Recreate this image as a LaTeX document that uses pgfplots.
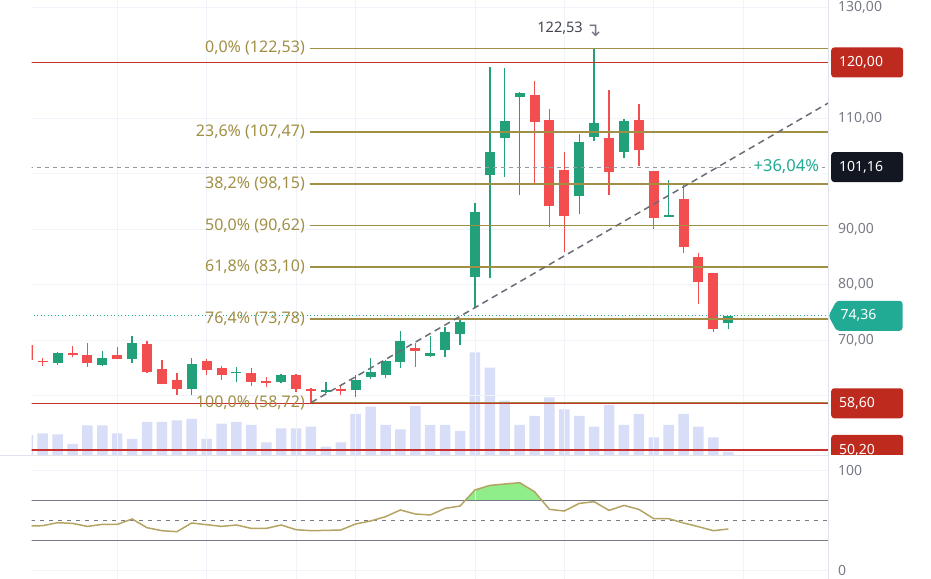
\documentclass[border=0pt]{standalone}
\usepackage{pgfplots}
\pgfplotsset{compat=1.18}
\usepackage{pgfplotstable}
\usepackage{fontspec}
\setmainfont{Noto Sans}
\newfontfamily\arrowfont{DejaVu Sans}

\definecolor{tvgreen}{HTML}{22A079}
\definecolor{tvred}{HTML}{F24E50}
\definecolor{fib}{HTML}{A08F45}
\definecolor{lvl}{HTML}{C8302E}
\definecolor{tagred}{HTML}{BF2A1F}
\definecolor{tagblack}{HTML}{131722}
\definecolor{tagteal}{HTML}{22AB94}
\definecolor{vol}{HTML}{D8DDF8}
\definecolor{tickc}{HTML}{787B86}
\definecolor{rsiline}{HTML}{B5A364}
\definecolor{rsifill}{HTML}{90EE8A}
\definecolor{gridc}{HTML}{F0F3FA}
\definecolor{borderc}{HTML}{E0E3EB}
\definecolor{darktext}{HTML}{434651}
\definecolor{trend}{HTML}{6A6D78}

\newcommand\tickfont{\fontsize{14bp}{16bp}\selectfont}
\newcommand\fibfont{\fontsize{16bp}{18bp}\selectfont}
\newcommand\tagfont{\fontsize{14bp}{16bp}\selectfont}

% green candles: index, open, high, low, close
\pgfplotstableread{
i O H L C
1 65.80 67.89 65.50 67.60
4 65.50 68.07 65.37 66.70
6 66.52 70.72 65.91 69.51
10 61.17 66.70 60.09 65.68
13 64.00 65.19 62.38 64.30
16 62.49 63.87 62.20 63.69
19 60.60 62.49 60.50 60.90
21 60.99 63.69 59.78 62.79
22 63.39 66.70 62.92 64.29
23 63.69 66.40 63.10 66.22
24 65.98 71.68 64.90 69.87
26 67.12 70.72 66.88 67.60
27 68.20 72.40 66.88 71.50
28 71.08 73.60 69.10 73.30
29 81.41 94.74 76.00 93.12
30 99.73 119.24 81.12 103.82
31 106.45 118.96 99.42 109.46
32 113.84 114.74 96.13 114.45
36 96.00 107.06 92.70 105.73
37 106.58 122.53 105.91 109.10
39 103.93 109.77 102.74 109.51
42 92.22 98.83 92.22 92.52
46 73.01 74.36 71.93 74.36
}\greentab

% red candles: index, open, high, low, close
\pgfplotstableread{
i O H L C
-1 69.10 70.00 65.50 66.40
0 66.20 66.81 65.32 65.95
2 67.71 68.97 66.88 67.35
3 67.30 69.51 65.19 65.80
5 67.30 68.68 66.50 66.58
7 69.23 69.82 64.00 64.18
8 64.77 66.40 62.00 62.07
9 62.79 64.00 60.09 61.17
11 66.22 66.52 63.69 64.59
12 65.01 65.37 62.79 63.69
14 64.00 64.90 61.71 62.49
15 62.61 63.39 61.48 62.31
17 63.69 63.87 60.68 61.12
18 61.23 61.30 58.72 60.81
20 61.12 61.71 60.09 60.82
25 68.50 69.51 65.19 68.05
33 114.14 116.72 98.23 109.33
34 109.64 111.62 90.41 94.14
35 100.63 103.82 85.91 92.40
38 106.34 115.05 96.13 100.32
40 109.64 112.52 101.35 104.23
41 100.50 100.50 89.95 91.93
43 95.35 97.93 85.62 86.81
44 85.01 85.73 76.43 80.40
45 82.13 82.13 71.50 71.93
}\redtab

% volume and RSI
\pgfplotstableread{
i V R
-1 20.0 44.7
0 21.7 45.0
1 20.7 48.0
2 11.0 47.3
3 29.7 44.3
4 29.7 46.3
5 21.7 46.3
6 16.0 51.7
7 33.0 43.0
8 33.0 40.0
9 34.7 39.0
10 36.0 47.7
11 16.0 46.0
12 31.3 44.3
13 33.0 45.7
14 30.0 42.3
15 12.7 42.3
16 26.7 45.7
17 26.7 41.0
18 28.3 40.0
19 8.3 40.3
20 12.7 40.7
21 41.0 46.7
22 48.3 49.7
23 30.0 54.0
24 25.7 60.7
25 49.0 56.7
26 30.0 55.7
27 30.0 62.3
28 24.0 64.7
29 102.7 80.7
30 87.3 85.3
31 54.3 86.7
32 30.0 88.0
33 39.0 79.0
34 57.7 61.3
35 45.7 59.7
36 39.0 67.3
37 28.3 69.0
38 50.0 60.3
39 30.0 65.3
40 41.0 61.3
41 17.7 52.0
42 30.0 52.0
43 41.0 47.7
44 28.3 44.0
45 17.7 40.0
46 3.3 41.7
}\vrtab

\newcommand\pricetag[3]{%
  \node[fill=#2, rounded corners=3bp, text=white, anchor=west, minimum height=30bp,
        text width=56bp, inner xsep=8bp, inner ysep=0pt, font=\tagfont, align=left]
        at ([xshift=3bp]#1) {#3};}

\begin{document}
\begin{tikzpicture}[x=1bp,y=1bp]
\useasboundingbox (0,0) rectangle (931,579);

% ---------- volume ----------
\begin{axis}[at={(31.5bp,124bp)}, anchor=south west, width=796.5bp, height=455bp,
  scale only axis, xmin=-0.7515, xmax=52.69, ymin=0, ymax=455, axis lines=none]
\addplot[ybar, bar width=10.5bp, fill=vol, draw=none] table[x=i,y=V]{\vrtab};
\end{axis}

% ---------- price panel ----------
\begin{axis}[name=main, at={(31.5bp,124bp)}, anchor=south west, width=796.5bp, height=455bp,
  scale only axis, xmin=-0.7515, xmax=52.69, ymin=49.28, ymax=131.26,
  clip mode=individual, axis line style={draw=none}, tick style={draw=none},
  xtick={5,11,17,21,29,35,41,47}, xticklabels={}, xmajorgrids,
  ytick={70,80,90,110,130}, ymajorgrids,
  extra y ticks={60,100,120}, extra y tick labels={},
  extra y tick style={grid=major},
  major grid style={gridc, line width=0.8bp},
  yticklabel pos=right,
  yticklabel style={anchor=west, inner sep=0pt, xshift=10bp, font=\tickfont, text=tickc,
    /pgf/number format/.cd, fixed, fixed zerofill, precision=2, use comma, 1000 sep={}, assume math mode=true}]

% candles: wicks and bodies
\addplot[draw=none, mark=none, error bars/.cd, y dir=plus, y explicit, error mark=none,
  error bar style={draw=tvgreen, line width=1.4bp}]
  table[x=i, y=L, y error expr=\thisrow{H}-\thisrow{L}] {\greentab};
\addplot[draw=none, mark=none, error bars/.cd, y dir=plus, y explicit, error mark=none,
  error bar style={draw=tvgreen, line width=10bp, line cap=butt}]
  table[x=i, y=O, y error expr=\thisrow{C}-\thisrow{O}] {\greentab};
\addplot[draw=none, mark=none, error bars/.cd, y dir=plus, y explicit, error mark=none,
  error bar style={draw=tvred, line width=1.4bp}]
  table[x=i, y=L, y error expr=\thisrow{H}-\thisrow{L}] {\redtab};
\addplot[draw=none, mark=none, error bars/.cd, y dir=plus, y explicit, error mark=none,
  error bar style={draw=tvred, line width=10bp, line cap=butt}]
  table[x=i, y=C, y error expr=\thisrow{O}-\thisrow{C}] {\redtab};

% horizontal levels
\addplot[lvl, line width=1.3bp] coordinates {(-2,120) (60,120)};
\addplot[lvl, line width=1.3bp] coordinates {(-2,58.60) (60,58.60)};
\addplot[lvl, line width=1.3bp] coordinates {(-2,50.20) (60,50.20)};
\addplot[trend!70, line width=1bp, dash pattern=on 4bp off 4bp] coordinates {(-2,101.16) (60,101.16)};
\addplot[tagteal, line width=1.2bp, dash pattern=on 1bp off 2.5bp] coordinates {(-2,74.36) (60,74.36)};

% fibonacci levels
\addplot[fib, line width=1.7bp] coordinates {(17.93,122.53) (60,122.53)};
\addplot[fib, line width=1.7bp] coordinates {(17.93,107.47) (60,107.47)};
\addplot[fib, line width=1.7bp] coordinates {(17.93,98.15) (60,98.15)};
\addplot[fib, line width=1.7bp] coordinates {(17.93,90.62) (60,90.62)};
\addplot[fib, line width=1.7bp] coordinates {(17.93,83.10) (60,83.10)};
\addplot[fib, line width=1.7bp] coordinates {(17.93,73.78) (60,73.78)};
\addplot[fib, line width=1.7bp] coordinates {(17.93,58.72) (60,58.72)};

% trend line
\addplot[trend, line width=1.5bp, dash pattern=on 6.5bp off 4.5bp] coordinates {(18,58.72) (53,113.15)};

% fib labels
\node[anchor=east, text=fib, font=\fibfont, inner sep=0pt] at (axis cs:17.6,122.53) {0,0\% (122,53)};
\node[anchor=east, text=fib, font=\fibfont, inner sep=0pt] at (axis cs:17.6,107.47) {23,6\% (107,47)};
\node[anchor=east, text=fib, font=\fibfont, inner sep=0pt] at (axis cs:17.6,98.15) {38,2\% (98,15)};
\node[anchor=east, text=fib, font=\fibfont, inner sep=0pt] at (axis cs:17.6,90.62) {50,0\% (90,62)};
\node[anchor=east, text=fib, font=\fibfont, inner sep=0pt] at (axis cs:17.6,83.10) {61,8\% (83,10)};
\node[anchor=east, text=fib, font=\fibfont, inner sep=0pt] at (axis cs:17.6,73.78) {76,4\% (73,78)};
\node[anchor=east, text=fib, font=\fibfont, inner sep=0pt] at (axis cs:17.6,58.72) {100,0\% (58,72)};

% annotations
\node[anchor=east, text=tagteal, font=\fontsize{16.5bp}{18bp}\selectfont, fill=white, inner xsep=3bp, inner ysep=1bp] at (axis cs:52.3,101.16) {+36,04\%};
\node[anchor=east, text=darktext, font=\fontsize{14.5bp}{16bp}\selectfont, inner sep=0pt] at (axis cs:36.25,126.2) {122,53};
\node[anchor=center, text=tickc, font=\arrowfont\fontsize{19bp}{21bp}\selectfont, inner sep=0pt] at (axis cs:36.95,125.7) {↴};

\coordinate (t120) at (axis cs:52.69,120);
\coordinate (t101) at (axis cs:52.69,101.16);
\coordinate (t74) at (axis cs:52.69,74.36);
\coordinate (t586) at (axis cs:52.69,58.60);
\coordinate (t502) at (axis cs:52.69,50.20);
\end{axis}

% ---------- RSI overbought fill (axis starting at 70, clipped below) ----------
\begin{axis}[at={(31.5bp,78.3bp)}, anchor=south west, width=796.5bp, height=43.7bp,
  scale only axis, xmin=-0.7515, xmax=52.69, ymin=70, ymax=113.7, axis lines=none]
\addplot[fill=rsifill, draw=none] table[x=i,y=R]{\vrtab} \closedcycle;
\end{axis}

% ---------- RSI panel ----------
\begin{axis}[name=rsiax, at={(31.5bp,0bp)}, anchor=south west, width=796.5bp, height=122bp,
  scale only axis, xmin=-0.7515, xmax=52.69, ymin=-8.3, ymax=113.7,
  axis line style={draw=none}, tick style={draw=none},
  xtick={5,11,17,21,29,35,41,47}, xticklabels={}, xmajorgrids,
  ytick={0,100}, ymajorgrids,
  major grid style={gridc, line width=0.8bp},
  yticklabel pos=right,
  yticklabel style={anchor=west, inner sep=0pt, xshift=10bp, font=\tickfont, text=tickc,
    /pgf/number format/.cd, assume math mode=true}]
\addplot[tickc, line width=1.5bp] coordinates {(-2,70) (60,70)};
\addplot[tickc, line width=1.5bp] coordinates {(-2,30) (60,30)};
\addplot[tickc, line width=1.3bp, dash pattern=on 4.5bp off 4.5bp] coordinates {(-2,50) (60,50)};
\addplot[rsiline, line width=1.5bp] table[x=i,y=R]{\vrtab};
\end{axis}

% panel separator and right border
\draw[borderc, line width=0.8bp] (0,123.5) -- (828,123.5);
\draw[borderc, line width=0.8bp] (828,0) -- (828,579);

% price tags
\pricetag{t120}{tagred}{120,00}
\pricetag{t101}{tagblack}{101,16}
\pricetag{t586}{tagred}{58,60}
\begin{scope}
\clip (828,124) rectangle (931,579);
\pricetag{t502}{tagred}{50,20}
\end{scope}
\path (t74) ++(0.5,0) coordinate (a74);
\fill[tagteal, rounded corners=3bp] ([xshift=8bp,yshift=15bp]a74) -- ([xshift=74bp,yshift=15bp]a74)
  -- ([xshift=74bp,yshift=-15bp]a74) -- ([xshift=8bp,yshift=-15bp]a74) -- (a74) -- cycle;
\node[anchor=west, text=white, font=\tagfont, inner sep=0pt] at ([xshift=12bp]a74) {74,36};
\end{tikzpicture}
\end{document}
